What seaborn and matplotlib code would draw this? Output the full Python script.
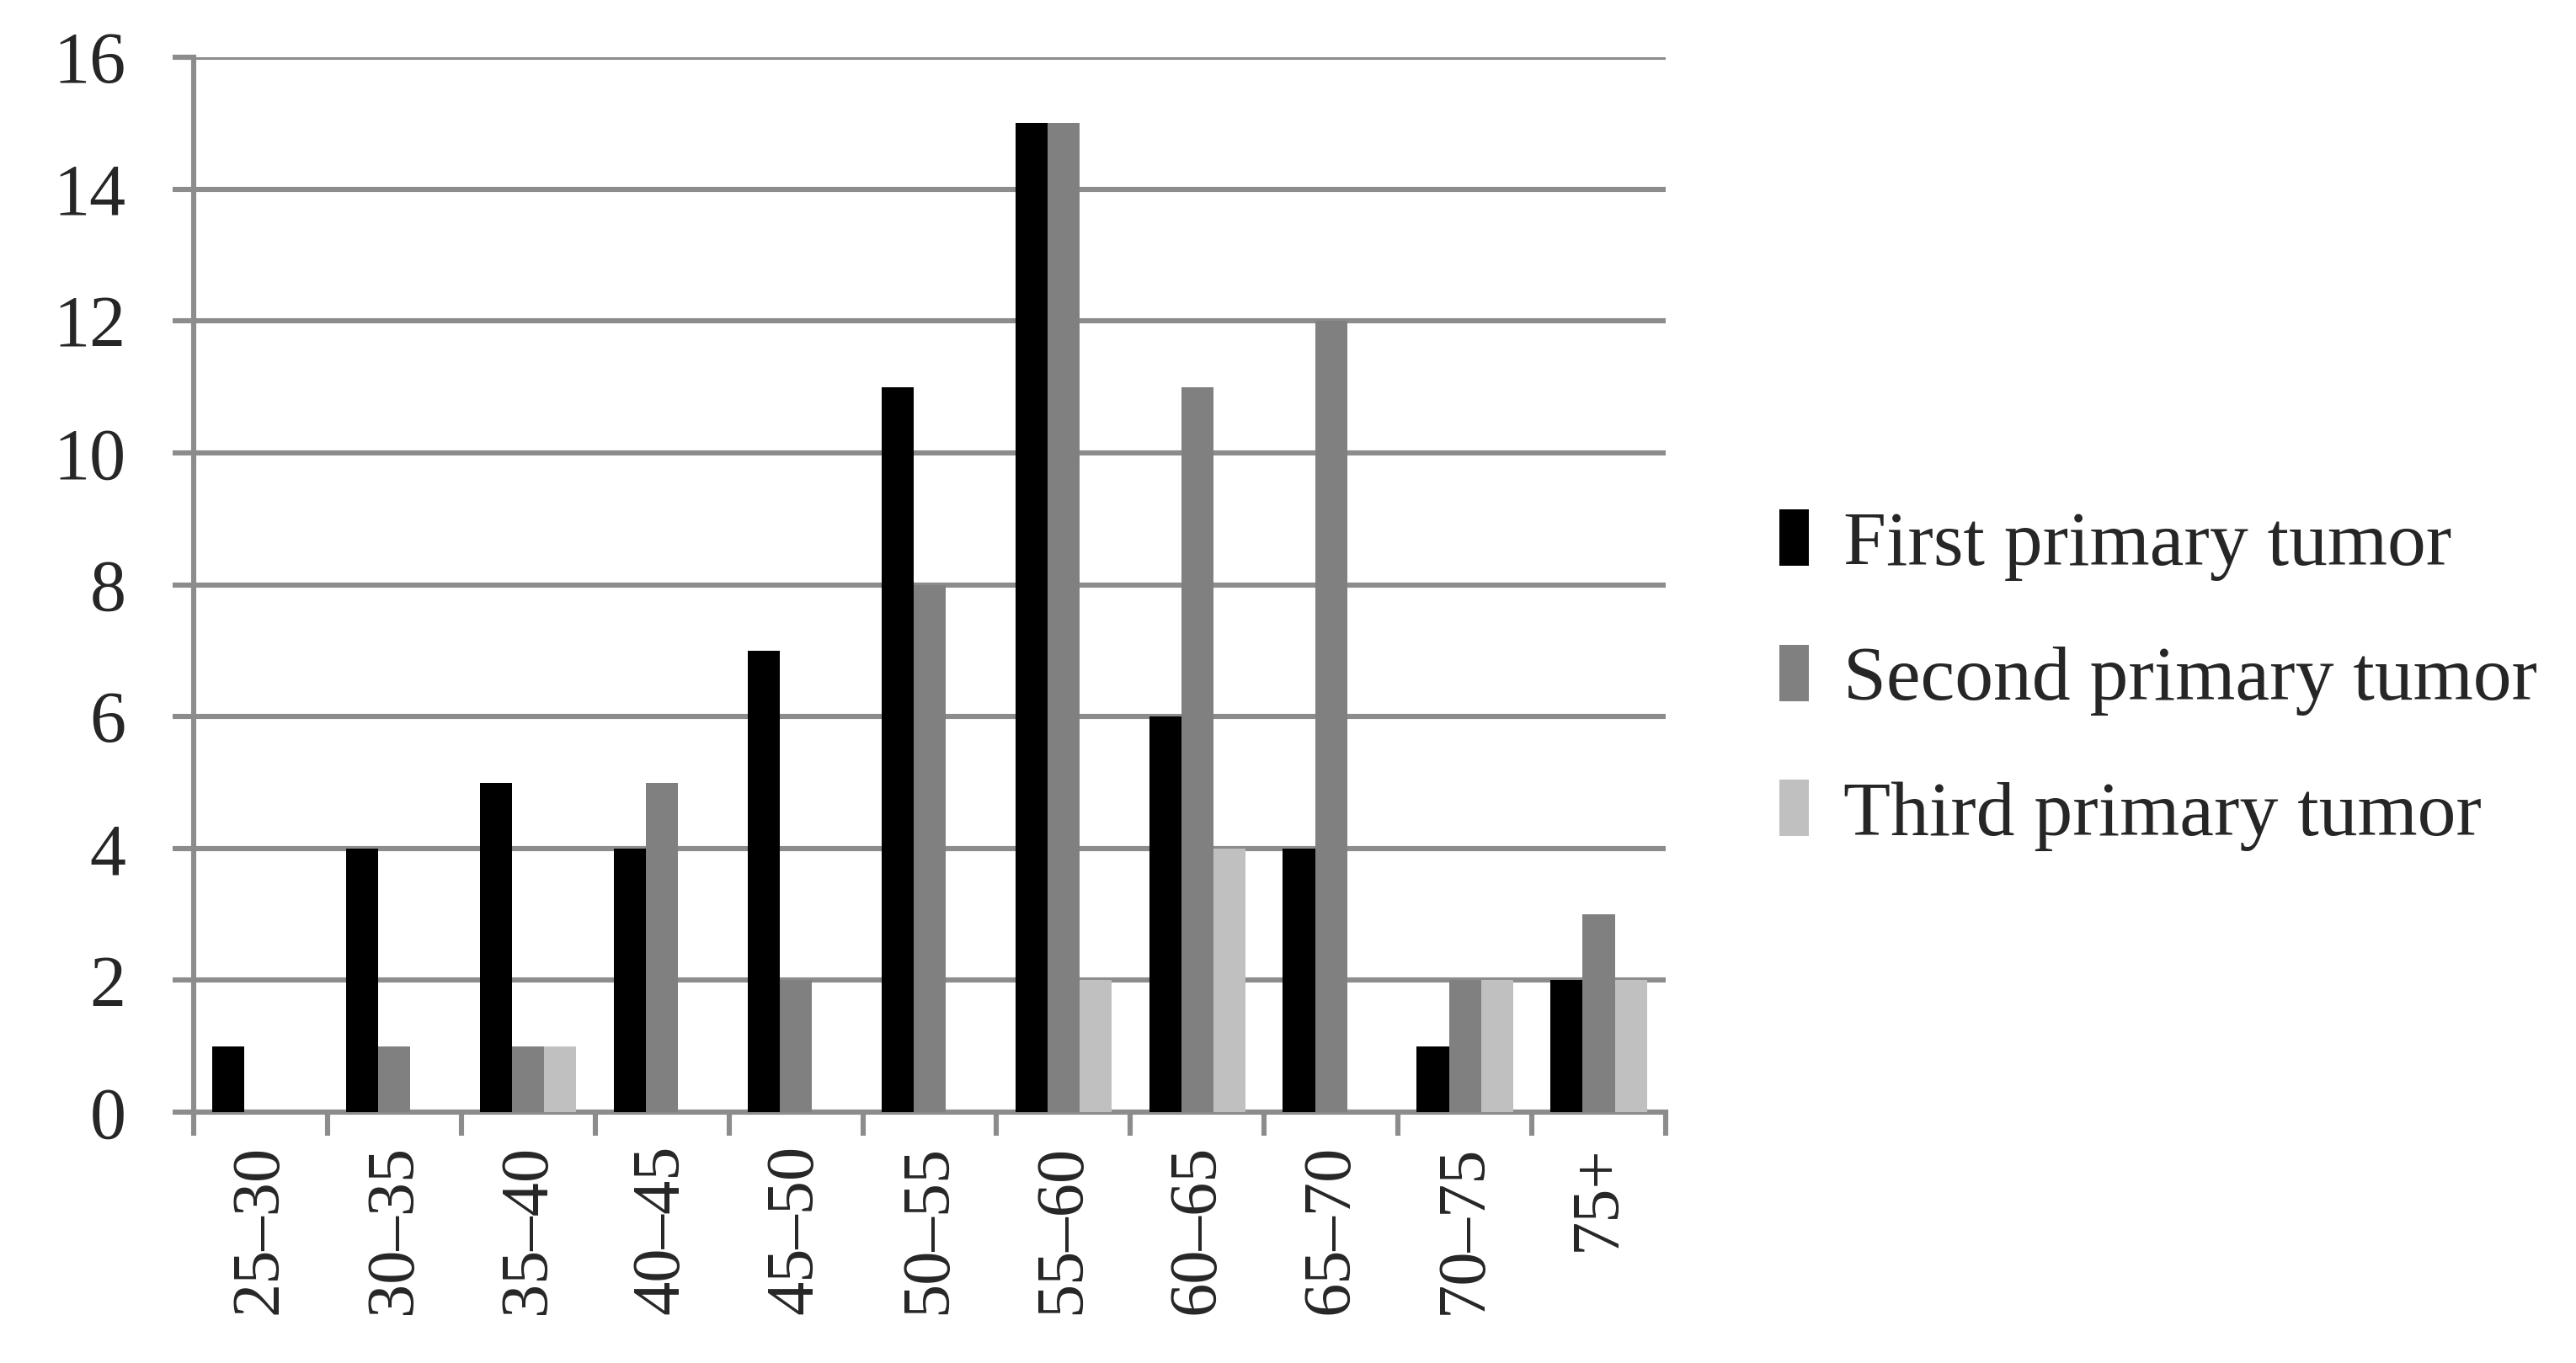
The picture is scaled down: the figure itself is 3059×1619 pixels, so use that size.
import numpy as np
import pandas as pd
import seaborn as sns
import matplotlib.pyplot as plt
from matplotlib.patches import Patch

age_groups = ['25–30', '30–35', '35–40', '40–45', '45–50', '50–55',
              '55–60', '60–65', '65–70', '70–75', '75+']
first = [1, 4, 5, 4, 7, 11, 15, 6, 4, 1, 2]
second = [0, 1, 1, 5, 2, 8, 15, 11, 12, 2, 3]
third = [0, 0, 1, 0, 0, 0, 2, 4, 0, 2, 2]
series = ['First primary tumor', 'Second primary tumor', 'Third primary tumor']
colors = ['#000000', '#808080', '#c0c0c0']

df = pd.DataFrame({'age': age_groups * 3,
                   'count': first + second + third,
                   'tumor': np.repeat(series, len(age_groups))})

sns.set_style('white')
plt.rcParams['font.family'] = ['Liberation Serif', 'DejaVu Serif']

grid_c = '#8c8c8c'
fig = plt.figure(figsize=(15.295, 8.095), dpi=200)
ax = fig.add_axes([0.0752, 0.184, 0.5714, 0.774])

sns.barplot(data=df, x='age', y='count', hue='tumor', palette=colors,
            width=0.72, saturation=1, ax=ax, legend=False, zorder=3,
            linewidth=0, edgecolor='none')

ax.set_ylim(0, 16)
ax.set_yticks(range(0, 17, 2))
ax.set_xlim(-0.5, len(age_groups) - 0.5)
ax.yaxis.grid(True, color=grid_c, linewidth=2.2, zorder=0)
ax.set_axisbelow(True)
for s in ['top', 'right']:
    ax.spines[s].set_visible(False)
for s in ['left', 'bottom']:
    ax.spines[s].set_color(grid_c)
    ax.spines[s].set_linewidth(2.2)

# x ticks at the category boundaries, labels centred between them
ax.set_xticks(np.arange(-0.5, len(age_groups), 1.0))
ax.set_xticklabels([])
ax.set_xticks(range(len(age_groups)), minor=True)
ax.set_xticklabels(age_groups, minor=True, rotation=90, fontsize=29)
ax.tick_params(axis='x', which='major', direction='out', length=10,
               width=2.2, color=grid_c, bottom=True)
ax.tick_params(axis='x', which='minor', length=0, pad=14)
ax.tick_params(axis='y', direction='out', length=9, width=2.2,
               color=grid_c, left=True, labelsize=31, pad=20)
ax.set_xlabel('')
ax.set_ylabel('')

handles = [Patch(facecolor=c, edgecolor='none') for c in colors]
fig.legend(handles, series, loc='center left', bbox_to_anchor=(0.6907, 0.501),
           frameon=False, fontsize=33, handlelength=0.38, handleheight=0.75,
           handletextpad=0.45, labelspacing=0.83, borderaxespad=0,
           borderpad=0)

fig.savefig('out.png', dpi=200, facecolor='white')
